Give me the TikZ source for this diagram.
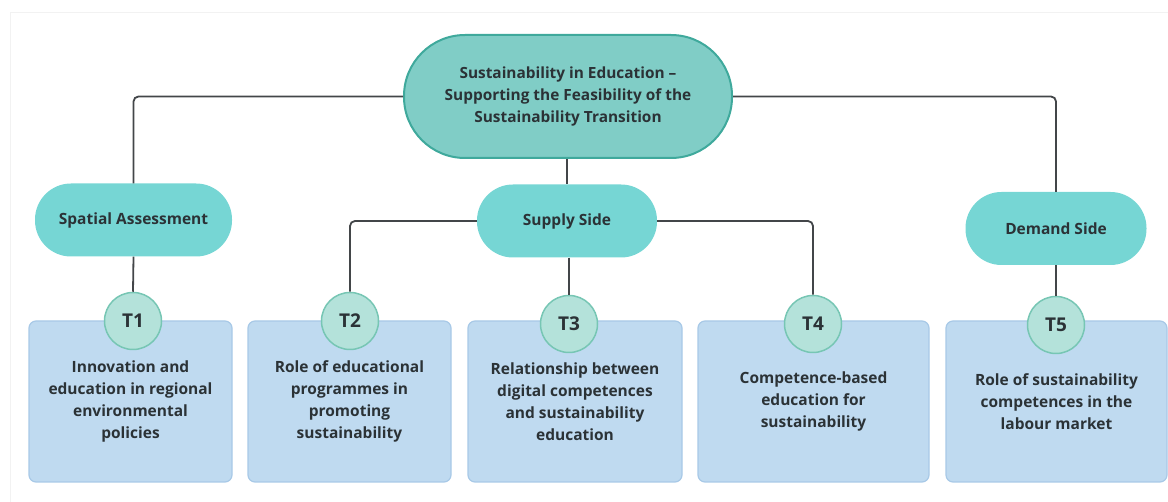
\documentclass[tikz,border=0pt]{standalone}
\usepackage{fontspec}
\setmainfont{Open Sans}
\begin{document}
\definecolor{linegray}{HTML}{434649}
\definecolor{txt}{HTML}{2B3236}
\definecolor{rootfill}{HTML}{80CDC6}
\definecolor{rootdraw}{HTML}{3FA99C}
\definecolor{pillfill}{HTML}{76D6D4}
\definecolor{circfill}{HTML}{B4E2DA}
\definecolor{circdraw}{HTML}{77C6B4}
\definecolor{boxfill}{HTML}{BFDAF0}
\definecolor{boxdraw}{HTML}{A8C9E7}
\begin{tikzpicture}[x=1pt,y=-1pt,
  every node/.style={font=\bfseries, text=txt, align=center, inner sep=0pt},
  rootnode/.style={fill=rootfill, draw=rootdraw, line width=2pt,
    minimum width=328pt, minimum height=123pt, rounded corners=61pt,
    font=\bfseries\fontsize{15.4}{21.7}\selectfont},
  pill/.style={fill=pillfill, draw=none, minimum height=73pt,
    rounded corners=36pt, font=\bfseries\fontsize{15.5}{18}\selectfont},
  topicbox/.style={fill=boxfill, draw=boxdraw, line width=1.2pt,
    rounded corners=7pt, minimum height=161pt,
    font=\bfseries\fontsize{15.5}{22}\selectfont},
  tcirc/.style={circle, fill=circfill, draw=circdraw, line width=1.5pt,
    minimum size=57pt, font=\bfseries\fontsize{19}{20}\selectfont},
  link/.style={draw=linegray, line width=1.8pt, rounded corners=5pt}]

\useasboundingbox (0,0) rectangle (1168,502);
% faint page frame
\draw[draw=black!5, line width=0.8pt] (10,502) -- (10,12) -- (1168,12);

% root and the three branches
\node[rootnode] (root) at (568,96.5)
  {Sustainability in Education –\\Supporting the Feasibility of the\\Sustainability Transition};
\node[pill, minimum width=197pt] (spatial) at (133.5,220) {Spatial Assessment};
\node[pill, minimum width=180pt] (supply) at (567,221) {Supply Side};
\node[pill, minimum width=181pt] (demand) at (1056,228.5) {Demand Side};

% topic boxes
\node[topicbox, minimum width=203pt] (b1) at (130.5,401.5)
  {Innovation and\\education in regional\\environmental\\policies};
\node[topicbox, minimum width=203pt] (b2) at (349.5,401.5)
  {Role of educational\\programmes in\\promoting\\sustainability};
\node[topicbox, minimum width=214pt] (b3) at (575,401.5)
  {Relationship between\\digital competences\\and sustainability\\education};
\node[topicbox, minimum width=231pt] (b4) at (813.5,401.5)
  {Competence-based\\education for\\sustainability};
\node[topicbox, minimum width=221pt] (b5) at (1056.5,401.5)
  {Role of sustainability\\competences in the\\labour market};

% topic badges
\node[tcirc] (t1) at (133,321) {T1};
\node[tcirc] (t2) at (350,321) {T2};
\node[tcirc] (t3) at (569,324) {T3};
\node[tcirc] (t4) at (813,324) {T4};
\node[tcirc] (t5) at (1056,325) {T5};

% connectors
\draw[link] (root.west) -| (spatial.north);
\draw[link] (root.east) -| (demand.north);
\draw[link] (supply.north |- root.south) -- (supply.north);
\draw[link] (spatial.south) -- (t1.north);
\draw[link] (demand.south) -- (t5.north);
\draw[link] (supply.west) -| (t2.north);
\draw[link] (supply.east) -| (t4.north);
\draw[link] (t3.north |- supply.south) -- (t3.north);
\end{tikzpicture}
\end{document}
